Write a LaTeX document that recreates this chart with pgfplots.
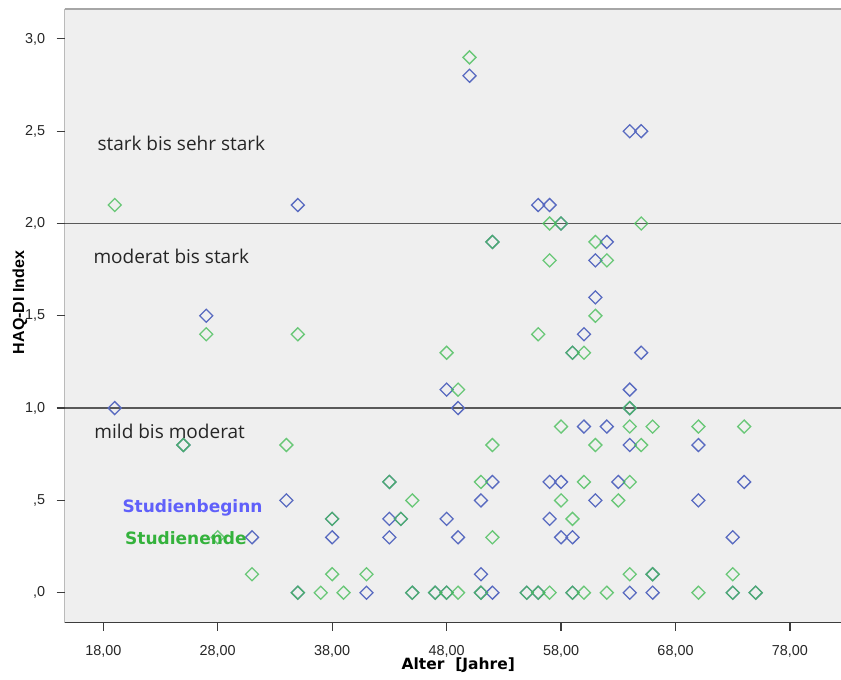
\documentclass[border=0pt]{standalone}
\usepackage{fontspec}
\setmainfont{Liberation Sans}
\newfontfamily\dejavu{DejaVu Sans}
\newfontfamily\opensans{Open Sans}
\usepackage{pgfplots}
\pgfplotsset{compat=1.18}
\definecolor{bluem}{RGB}{88,106,192}
\definecolor{greenm}{RGB}{72,190,90}
\definecolor{bluet}{RGB}{96,96,250}
\definecolor{greent}{RGB}{52,178,60}
\definecolor{bg}{RGB}{239,239,239}
\definecolor{axc}{RGB}{60,60,60}
\begin{document}
\begin{tikzpicture}
\begin{axis}[
  at={(0pt,0pt)}, anchor=south west,
  scale only axis, width=776.3pt, height=613.7pt,
  xmin=14.63, xmax=82.46, ymin=-0.1625, ymax=3.162,
  axis background/.style={fill=bg},
  axis line style={draw=none},
  xtick={18,28,38,48,58,68,78},
  xticklabels={{18,00},{28,00},{38,00},{48,00},{58,00},{68,00},{78,00}},
  ytick={0,0.5,1,1.5,2,2.5,3},
  yticklabels={{,0},{,5},{1,0},{1,5},{2,0},{2,5},{3,0}},
  xtick pos=bottom, ytick pos=left,
  tick align=outside, major tick length=8pt,
  tick style={axc, line width=1.2pt},
  xticklabel style={font=\fontsize{14.4}{16}\selectfont, text=black!85, anchor=base, inner sep=0pt, yshift=-24.6pt},
  yticklabel style={font=\fontsize{14.4}{16}\selectfont, text=black!85, anchor=east, inner sep=0pt, xshift=-11.4pt},
  mark size=4.6pt,
]
\addplot[axc!85, line width=1.5pt, forget plot] coordinates {(14.63,1) (82.46,1)};
\addplot[axc!85, line width=1.5pt, forget plot] coordinates {(14.63,2) (82.46,2)};
% Studienbeginn
\addplot[only marks, mark=square, mark options={rotate=45, draw=bluem, line width=1.3pt, fill=none}] coordinates {
(19,1.0) (27,1.5) (35,2.1) (50,2.8) (64,2.5) (65,2.5) (56,2.1) (57,2.1) (62,1.9) (61,1.8)
(61,1.6) (60,1.4) (65,1.3) (48,1.1) (64,1.1) (49,1.0) (60,0.9) (62,0.9) (64,0.8) (70,0.8)
(52,0.6) (57,0.6) (58,0.6) (63,0.6) (74,0.6) (34,0.5) (51,0.5) (61,0.5) (70,0.5) (43,0.4)
(48,0.4) (57,0.4) (31,0.3) (38,0.3) (43,0.3) (49,0.3) (58,0.3) (59,0.3) (73,0.3) (51,0.1)
(41,0) (52,0) (64,0) (66,0)
(58,2.0) (52,1.9) (59,1.3) (64,1.0) (25,0.8) (43,0.6) (38,0.4) (44,0.4) (66,0.1) (35,0)
(45,0) (47,0) (48,0) (51,0) (55,0) (56,0) (59,0) (73,0) (75,0)
};
% Studienende
\addplot[only marks, mark=square, mark options={rotate=45, draw=greenm, draw opacity=0.8, line width=1.3pt, fill=none}] coordinates {
(19,2.1) (50,2.9) (57,2.0) (65,2.0) (61,1.9) (57,1.8) (62,1.8) (61,1.5) (27,1.4) (35,1.4)
(56,1.4) (48,1.3) (60,1.3) (49,1.1) (34,0.8) (52,0.8) (61,0.8) (65,0.8) (58,0.9) (64,0.9)
(66,0.9) (70,0.9) (74,0.9) (51,0.6) (60,0.6) (64,0.6) (45,0.5) (58,0.5) (63,0.5) (59,0.4)
(28,0.3) (52,0.3) (31,0.1) (38,0.1) (41,0.1) (64,0.1) (73,0.1) (37,0) (39,0) (49,0)
(57,0) (60,0) (62,0) (70,0)
(58,2.0) (52,1.9) (59,1.3) (64,1.0) (25,0.8) (43,0.6) (38,0.4) (44,0.4) (66,0.1) (35,0)
(45,0) (47,0) (48,0) (51,0) (55,0) (56,0) (59,0) (73,0) (75,0)
};
\draw[axc, line width=1.3pt] (rel axis cs:0,1) -- (rel axis cs:0,0) -- (rel axis cs:1,0);
\draw[gray!70, line width=1.5pt] (rel axis cs:0,1) -- (rel axis cs:1,1);
\end{axis}
% annotations (picture coordinates, 1px = 1pt, origin at lower-left of axis box)
\begin{scope}[every node/.style={inner sep=0pt, anchor=base west}]
\node[text=black!85, font=\opensans\fontsize{19}{22}\selectfont] at (32.6pt,471.7pt) {stark bis sehr stark};
\node[text=black!85, font=\opensans\fontsize{19}{22}\selectfont] at (28.6pt,358.7pt) {moderat bis stark};
\node[text=black!85, font=\opensans\fontsize{19}{22}\selectfont] at (29.6pt,184.4pt) {mild bis moderat};
\node[text=bluet, font=\dejavu\bfseries\fontsize{17}{20}\selectfont] at (57.6pt,110.4pt) {Studienbeginn};
\node[text=greent, font=\dejavu\bfseries\fontsize{17}{20}\selectfont] at (60.3pt,78.4pt) {Studienende};
\end{scope}
\node[inner sep=0pt, anchor=base, font=\dejavu\bfseries\fontsize{15.5}{18}\selectfont] at (393.6pt,-46.6pt) {Alter \ [Jahre]};
\node[inner sep=0pt, rotate=90, font=\bfseries\fontsize{16}{19}\selectfont] at (-44.7pt,320.2pt) {HAQ-DI Index};
\pgfresetboundingbox
\path (-64.7pt,-57.3pt) rectangle (776.3pt,622.7pt);
\end{tikzpicture}
\end{document}
